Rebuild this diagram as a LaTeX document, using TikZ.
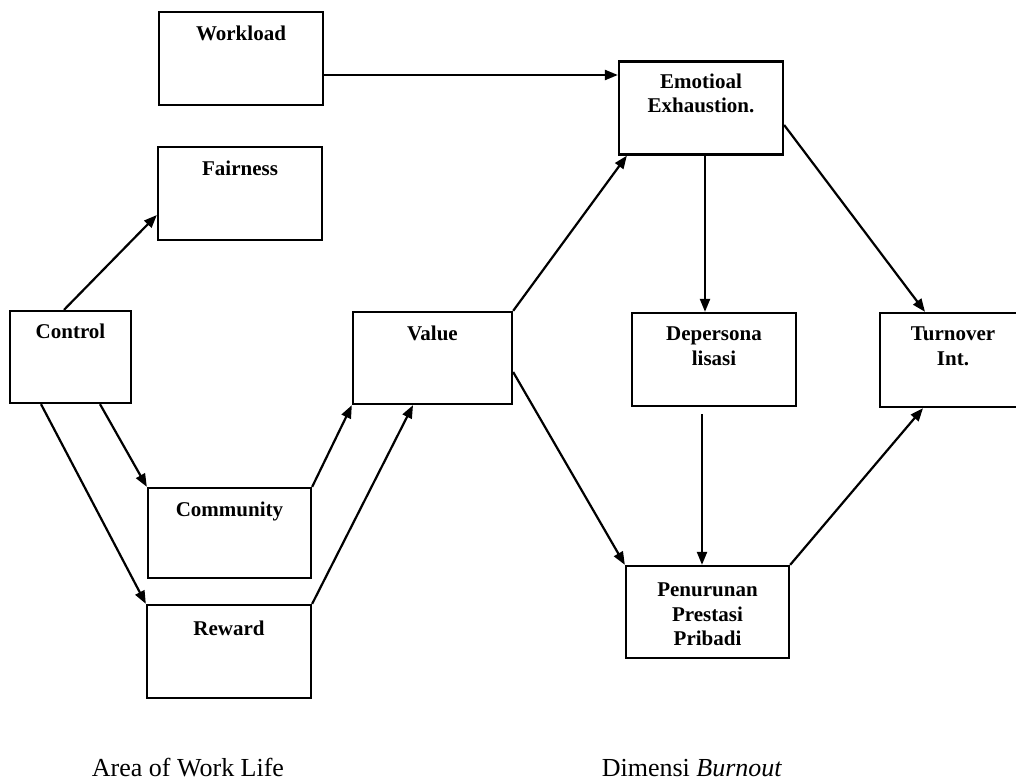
\documentclass[tikz,border=0pt]{standalone}
\usepackage{fontspec}
\setmainfont{Liberation Serif}
\usetikzlibrary{arrows.meta}
\begin{document}
\begin{tikzpicture}[x=1pt,y=-1pt,
  box/.style={draw, line width=2.3pt, inner sep=0pt,
    minimum width=164pt, minimum height=93pt},
  lbl/.style={anchor=north, inner sep=0pt, align=center, yshift=-15pt,
    font=\fontsize{21}{24.5}\selectfont\bfseries},
  link/.style={line width=2.2pt, -{Triangle[length=13pt,width=10pt]}},
  caption/.style={anchor=base, font=\fontsize{26}{30}\selectfont}]
\useasboundingbox (0,0) rectangle (1016,781);
\clip (0,0) rectangle (1016,781);

% Area of Work Life
\node[box, label={[lbl]north:Workload}] (workload) at (241,58.5) {};
\node[box, label={[lbl]north:Fairness}] (fairness) at (240,193.5) {};
\node[box, minimum width=121pt, minimum height=92pt,
  label={[lbl, yshift=1pt]north:Control}] (control) at (70.5,357) {};
\node[box, minimum width=163pt, minimum height=90pt,
  label={[lbl]north:Community}] (community) at (229.5,533) {};
\node[box, label={[lbl, yshift=-2pt]north:Reward}] (reward) at (229,651.5) {};
\node[box, minimum width=159pt, minimum height=92pt,
  label={[lbl]north:Value}] (value) at (432.5,358) {};

% Dimensi Burnout
\node[box, label={[lbl, yshift=2pt]north:Emotioal\\Exhaustion.}] (emotional) at (701,108) {};
\node[box, label={[lbl]north:Depersona\\lisasi}] (depersona) at (714,359.5) {};
\node[box, minimum width=146pt, minimum height=94pt,
  label={[lbl]north:Turnover\\Int.}] (turnover) at (953,360) {};
\node[box, minimum width=163pt, minimum height=92pt,
  label={[lbl, yshift=-3pt]north:Penurunan\\Prestasi\\Pribadi}] (penurunan) at (707.5,612) {};

% connectors
\draw[link] ([yshift=-16.5pt]workload.east) -- ([yshift=-16.5pt]workload.east -| emotional.west);
\draw[link] ([xshift=-6.5pt]control.north) -- ([yshift=-21.5pt]fairness.west);
\draw[link] ([xshift=29.5pt]control.south) -- (community.north west);
\draw[link] ([xshift=-29.5pt]control.south) -- (reward.north west);
\draw[link] (community.north east) -- (value.south west);
\draw[link] (reward.north east) -- ([xshift=-19.5pt]value.south);
\draw[link] (value.north east) -- ([xshift=9pt]emotional.south west);
\draw[link] ([yshift=-14pt]value.east) -- (penurunan.north west);
\draw[link] ([xshift=4pt]emotional.south) -- ([xshift=4pt]emotional.south |- depersona.north);
\draw[link] ([yshift=-17pt]emotional.east) -- ([xshift=-28pt]turnover.north);
\draw[link] ([xshift=-12pt,yshift=-7pt]depersona.south) -- ([xshift=-12pt]depersona.south |- penurunan.north);
\draw[link] (penurunan.north east) -- ([xshift=-30pt]turnover.south);

% group captions
\node[caption] (awl) at (188,776) {Area of Work Life};
\node[caption] (dim) at (692,776) {Dimensi \textit{Burnout}};
\end{tikzpicture}
\end{document}
